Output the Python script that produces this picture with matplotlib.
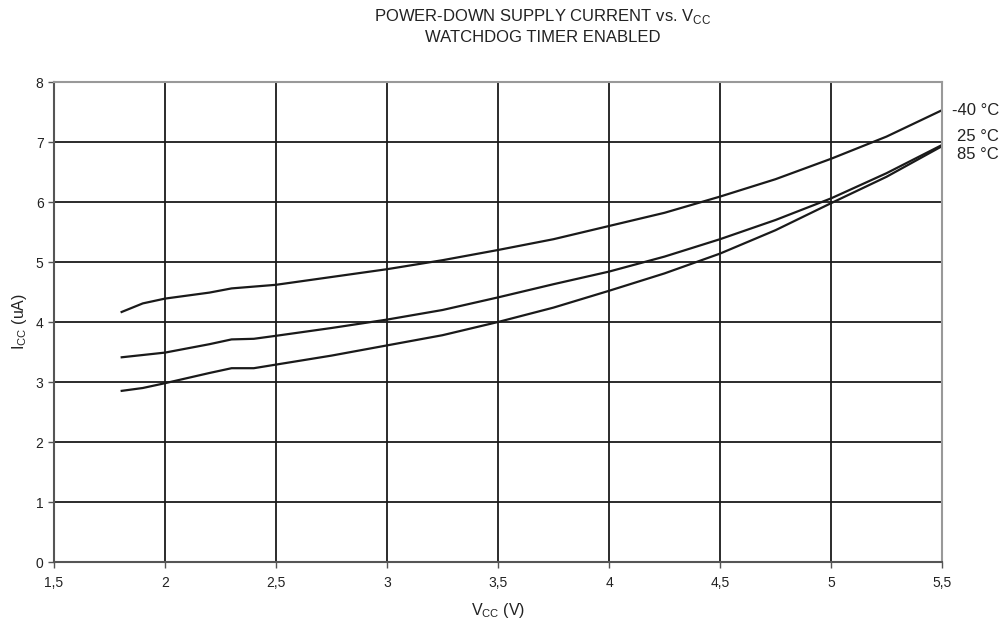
import numpy as np
import matplotlib
matplotlib.use("Agg")
import matplotlib.pyplot as plt
from matplotlib.ticker import FuncFormatter

plt.rcParams['font.family'] = ['Liberation Sans', 'DejaVu Sans']
plt.rcParams['mathtext.fontset'] = 'custom'
plt.rcParams['mathtext.rm'] = 'Liberation Sans'

# supply voltage (V) and current (uA)
vcc = [1.8, 1.9, 2.0, 2.2, 2.3, 2.4, 2.5, 2.75, 3.0, 3.25, 3.5, 3.75, 4.0, 4.25,
       4.5, 4.75, 5.0, 5.25, 5.5]
icc_m40 = [4.16, 4.31, 4.39, 4.49, 4.56, 4.59, 4.62, 4.75, 4.88, 5.03, 5.2, 5.38,
           5.6, 5.82, 6.09, 6.38, 6.72, 7.09, 7.53]
icc_25 = [3.41, 3.45, 3.49, 3.63, 3.71, 3.72, 3.77, 3.9, 4.04, 4.2, 4.41, 4.63,
          4.84, 5.09, 5.38, 5.7, 6.06, 6.48, 6.95]
icc_85 = [2.85, 2.9, 2.98, 3.15, 3.23, 3.23, 3.29, 3.44, 3.61, 3.78, 4.0, 4.24,
          4.52, 4.81, 5.14, 5.53, 5.98, 6.42, 6.93]
labels = ['-40 \u00b0C', '25 \u00b0C', '85 \u00b0C']

fig = plt.figure(figsize=(10.04, 6.2), dpi=100)
ax = fig.add_axes([54 / 1004, 58 / 620, 888 / 1004, 480 / 620])

for ys in (icc_m40, icc_25, icc_85):
    ax.plot(vcc, ys, color='#1a1a1a', lw=1.6, zorder=3, solid_capstyle='butt',
            solid_joinstyle='round')

ax.set_xlim(1.5, 5.5)
ax.set_ylim(0, 8)
ax.set_xticks(np.arange(1.5, 5.51, 0.5))
ax.set_yticks(range(0, 9))
ax.xaxis.set_major_formatter(FuncFormatter(lambda v, p: f"{v:g}".replace('.', ',')))
ax.grid(True, color='#1a1a1a', lw=1.3, zorder=1)
ax.set_axisbelow(True)
for side, s in ax.spines.items():
    s.set_color('#555555' if side in ('left', 'bottom') else '#999999')
    s.set_linewidth(1.5)
    s.set_zorder(4)
ax.tick_params(colors='#555555', labelcolor='#222222', labelsize=10, length=4, width=1)
ax.tick_params(axis='x', pad=6)

ax.set_xlabel(r'V$_{\mathregular{CC}}$ (V)', fontsize=11.5, color='#222222', labelpad=8)
ax.set_ylabel(r'I$_{\mathregular{CC}}$ (uA)', fontsize=11.5, color='#222222', labelpad=5)

fig.text(543 / 1004, 1 - 17 / 620, r'POWER-DOWN SUPPLY CURRENT vs. V$_{\mathregular{CC}}$',
         ha='center', va='center', fontsize=12, color='#222222')
fig.text(543 / 1004, 1 - 38 / 620, 'WATCHDOG TIMER ENABLED', ha='center', va='center',
         fontsize=12, color='#222222')

ax.annotate(labels[0], xy=(1, icc_m40[-1]), xycoords=('axes fraction', 'data'),
            xytext=(7, 0), textcoords='offset points', va='center', fontsize=12,
            color='#222222')
ax.annotate(labels[1], xy=(1, icc_25[-1]), xycoords=('axes fraction', 'data'),
            xytext=(11, 6), textcoords='offset points', va='center', fontsize=12,
            color='#222222')
ax.annotate(labels[2], xy=(1, icc_85[-1]), xycoords=('axes fraction', 'data'),
            xytext=(11, -6), textcoords='offset points', va='center', fontsize=12,
            color='#222222')

fig.savefig('out.png', dpi=100)
